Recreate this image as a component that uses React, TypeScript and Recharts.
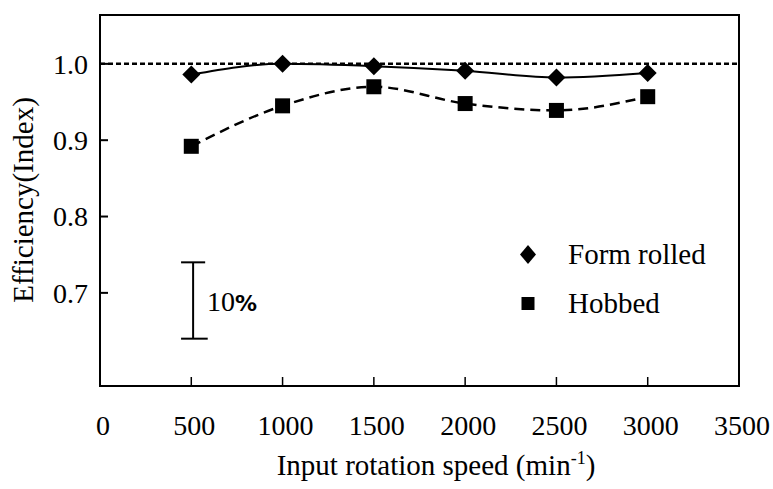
import { LineChart, Line, XAxis, YAxis, ReferenceLine, ReferenceArea, Legend } from 'recharts';

const speeds = [500, 1000, 1500, 2000, 2500, 3000];
const formRolled = [0.986, 1.0, 0.997, 0.991, 0.982, 0.988];
const hobbed = [0.892, 0.945, 0.97, 0.948, 0.939, 0.957];
const xTicks = [0, 500, 1000, 1500, 2000, 2500, 3000, 3500];
const yTicks = [0.7, 0.8, 0.9, 1.0];
const scaleBarX = 510;
const scaleBarCap = [444, 590];
const scaleBarY = [0.64, 0.74];

const data = speeds.map((s, i) => ({ speed: s, formRolled: formRolled[i], hobbed: hobbed[i] }));

const serif = '"Liberation Serif", "Times New Roman", serif';

const Diamond = (props: any) => {
  const { cx, cy, index } = props;
  if (cx == null || cy == null) return null;
  return <path key={`d-${index}`} d={`M${cx} ${cy - 9}L${cx + 9} ${cy}L${cx} ${cy + 9}L${cx - 9} ${cy}Z`} fill="#000" />;
};

const Square = (props: any) => {
  const { cx, cy, index } = props;
  if (cx == null || cy == null) return null;
  return <rect key={`s-${index}`} x={cx - 7.5} y={cy - 7.5} width={15} height={15} fill="#000" />;
};

const renderLegend = () => (
  <div style={{ fontFamily: serif, fontSize: 29, color: '#000' }}>
    {[
      { name: 'Form rolled', shape: <path d="M13 15L21 24.5L13 34L5 24.5Z" fill="#000" /> },
      { name: 'Hobbed', shape: <rect x={6.5} y={18} width={13} height={13} fill="#000" /> },
    ].map((item) => (
      <div key={item.name} style={{ display: 'flex', height: 49, lineHeight: '49px' }}>
        <svg width={53} height={49}>{item.shape}</svg>
        <span>{item.name}</span>
      </div>
    ))}
  </div>
);

const XTitle = (props: any) => {
  const vb = props.viewBox || { x: 100, y: 386, width: 639 };
  return (
    <text x={vb.x + vb.width / 2 + 16.5} y={vb.y + 89} textAnchor="middle" style={{ fontFamily: serif }} fontSize={29} fill="#000">
      Input rotation speed (min
      <tspan dy={-11} fontSize={18}>-1</tspan>
      <tspan dy={11}>)</tspan>
    </text>
  );
};

const YTitle = () => (
  <text x={33} y={200} transform="rotate(-90 33 200)" textAnchor="middle" style={{ fontFamily: serif }} fontSize={29} fill="#000">
    Efficiency(Index)
  </text>
);

const ScaleLabel = (props: any) => {
  const vb = props.viewBox || { x: 193, y: 262, height: 77 };
  return (
    <text x={vb.x + 14} y={vb.y + Math.abs(vb.height || 0) / 2 + 10.5} style={{ fontFamily: serif }} fontSize={28} fill="#000">
      10
      <tspan style={{ fontFamily: '"DejaVu Sans", sans-serif' }} fontWeight="bold" fontSize={22}>%</tspan>
    </text>
  );
};

const tickStyle = { fill: '#000', fontSize: 28, style: { fontFamily: serif } };

export default function App() {
  return (
    <div style={{ position: 'absolute', left: 0, top: 0, background: '#fff' }}>
      <style>{'body{margin:0}'}</style>
      <LineChart width={773} height={489} data={data} margin={{ top: 15, right: 34, left: 0, bottom: 0 }}>
        <XAxis
          dataKey="speed"
          type="number"
          domain={[0, 3500]}
          ticks={xTicks}
          interval={0}
          height={103}
          tickSize={-9}
          tickMargin={38}
          axisLine={{ stroke: '#000', strokeWidth: 2 }}
          tickLine={{ stroke: '#000', strokeWidth: 1.5 }}
          tick={{ ...tickStyle, dx: 3 }}
          label={{ content: <XTitle /> }}
        />
        <YAxis
          type="number"
          domain={[0.578, 1.064]}
          ticks={yTicks}
          interval={0}
          allowDataOverflow
          width={100}
          tickSize={-8}
          tickMargin={20}
          tickFormatter={(v: number) => v.toFixed(1)}
          axisLine={{ stroke: '#000', strokeWidth: 2 }}
          tickLine={{ stroke: '#000', strokeWidth: 2 }}
          tick={tickStyle}
          label={{ content: <YTitle /> }}
        />
        <ReferenceArea x1={0} x2={3500} y1={0.578} y2={1.064} fill="none" stroke="#000" strokeWidth={2} ifOverflow="visible" />
        <ReferenceLine y={1} stroke="#000" strokeWidth={2.5} strokeDasharray="5 3" />
        <ReferenceLine
          segment={[{ x: scaleBarX, y: scaleBarY[1] }, { x: scaleBarX, y: scaleBarY[0] }]}
          stroke="#000"
          strokeWidth={2}
          label={{ content: <ScaleLabel /> }}
        />
        <ReferenceLine segment={[{ x: scaleBarCap[0], y: scaleBarY[1] }, { x: scaleBarCap[1] - 14, y: scaleBarY[1] }]} stroke="#000" strokeWidth={2} />
        <ReferenceLine segment={[{ x: scaleBarCap[0], y: scaleBarY[0] }, { x: scaleBarCap[1], y: scaleBarY[0] }]} stroke="#000" strokeWidth={2} />
        <Line
          type="monotone"
          dataKey="formRolled"
          name="Form rolled"
          stroke="#000"
          strokeWidth={2}
          dot={<Diamond />}
          activeDot={false}
          isAnimationActive={false}
        />
        <Line
          type="monotone"
          dataKey="hobbed"
          name="Hobbed"
          stroke="#000"
          strokeWidth={2.5}
          strokeDasharray="10 6"
          dot={<Square />}
          activeDot={false}
          isAnimationActive={false}
        />
        <Legend
          layout="horizontal"
          verticalAlign="middle"
          align="center"
          content={renderLegend}
          wrapperStyle={{ position: 'absolute', left: 515, top: 230, width: 220 }}
        />
      </LineChart>
    </div>
  );
}
